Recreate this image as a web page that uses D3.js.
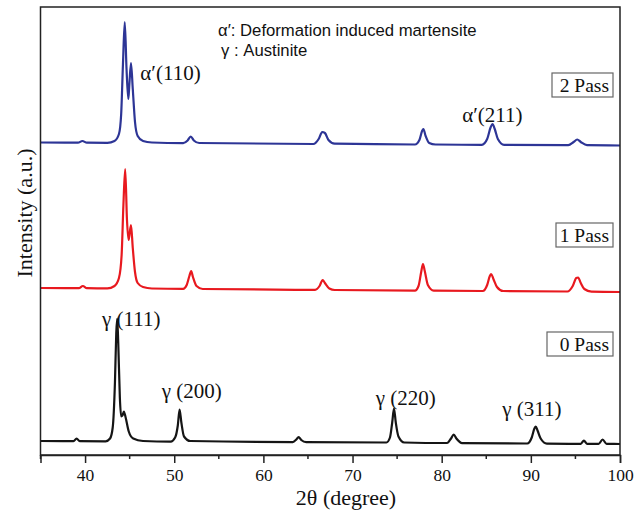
<!DOCTYPE html>
<html lang="en">
<head>
<meta charset="utf-8" />
<script src="https://d3js.org/d3.v7.min.js"></script>
<style>
  body { margin: 0; background: #fff; }
  svg { display: block; }
  .serif { font-family: "Liberation Serif", "Times New Roman", serif; fill: #111; }
  .sans { font-family: "Liberation Sans", Arial, sans-serif; fill: #111; }
</style>
</head>
<body>
<svg id="chart" width="644" height="511"></svg>
<script>
// x ticks
var xTicks = [40, 50, 60, 70, 80, 90, 100];
var xMinor = [35, 45, 55, 65, 75, 85, 95];

// patterns: [2theta, intensity above own baseline]
var pass0 = [[35, 1.5], [38.7, 1.3], [39.05, 4], [39.4, 1.3], [42.3, 1.2], [42.8, 4], [43.1, 15], [43.35, 60],
  [43.5, 110], [43.6, 124], [43.72, 100], [43.9, 45], [44.05, 26], [44.2, 27], [44.35, 31], [44.55, 25],
  [44.9, 11], [45.4, 4], [46.5, 1.5], [49.6, 0.9], [50.1, 5], [50.4, 17], [50.6, 33], [50.8, 20], [51.1, 6],
  [51.8, 1.5], [63.3, 0.4], [63.7, 3], [63.95, 5.5], [64.25, 2.5], [64.8, 0.3], [73.8, 0], [74.2, 5],
  [74.45, 20], [74.65, 34], [74.85, 20], [75.15, 6], [75.8, 0], [80.6, -0.5], [81.05, 4], [81.35, 8],
  [81.65, 4], [82.3, -0.6], [89.6, -1], [90.1, 5], [90.4, 14], [90.55, 16], [90.75, 12], [91.1, 4],
  [91.8, -1.1], [95.6, -1.3], [95.95, 2], [96.3, -1.3], [97.6, -1.4], [98.05, 3], [98.5, -1.4], [100, -1.5]];

var pass1 = [[35, 2], [39.3, 1.8], [39.75, 4], [40.2, 1.8], [42.5, 1.6], [43.3, 4], [43.8, 12], [44.1, 35],
  [44.3, 85], [44.5, 121], [44.7, 70], [44.88, 50], [44.98, 55], [45.15, 65], [45.35, 42], [45.6, 18],
  [45.9, 7], [46.5, 3], [47.5, 1.5], [51.0, 1.2], [51.4, 5], [51.7, 14], [51.9, 19], [52.1, 13], [52.5, 4],
  [53.2, 1], [65.8, 0.2], [66.3, 4], [66.65, 10], [66.9, 7], [67.4, 1.5], [68.0, 0], [77.0, -0.6], [77.4, 4],
  [77.7, 18], [77.9, 26], [78.1, 19], [78.45, 5], [79.1, -0.6], [84.6, -1], [85.1, 5], [85.4, 14],
  [85.55, 16], [85.8, 11], [86.2, 3], [86.9, -1], [94.1, -1.5], [94.7, 4], [95.1, 12], [95.3, 12.5],
  [95.6, 7], [96.0, 1], [96.8, -1.6], [100, -2]];

var pass2 = [[35, 1.5], [39.2, 1.3], [39.7, 3], [40.2, 1.3], [42.5, 1.2], [43.3, 3], [43.8, 10], [44.05, 30],
  [44.25, 80], [44.45, 122], [44.65, 75], [44.85, 45], [44.97, 60], [45.15, 81], [45.35, 55], [45.6, 22],
  [45.9, 8], [46.5, 3], [47.5, 1.5], [51.0, 0.9], [51.5, 3.5], [51.85, 7.5], [52.2, 3.5], [52.8, 1],
  [65.6, 0], [66.2, 5], [66.6, 12], [66.9, 11], [67.3, 4], [68.0, 0.3], [77.0, -0.5], [77.5, 4], [77.8, 13],
  [77.95, 15], [78.2, 8], [78.6, 1], [79.3, -0.5], [84.5, -0.8], [85.1, 5], [85.5, 17], [85.7, 20],
  [85.95, 15], [86.3, 5], [87.0, -0.8], [94.2, -1.2], [94.8, 2], [95.2, 4.5], [95.6, 2], [96.3, -1.2],
  [100, -1.5]];

var seriesNames = ["0 Pass", "1 Pass", "2 Pass"];
var seriesData = [pass0, pass1, pass2];
var seriesOffsets = [12.5, 165, 311];
var seriesColors = ["#151515", "#e8191f", "#2d3596"];

// peak labels [text, 2theta, intensity]
var peakLabels = [
  ["\u03b3 (111)", 41.9, 129],
  ["\u03b3 (200)", 48.6, 57],
  ["\u03b3 (220)", 72.6, 50],
  ["\u03b3 (311)", 86.8, 39],
  ["\u03b1\u2032(110)", 46.2, 375],
  ["\u03b1\u2032(211)", 82.3, 333]
];
var legendLines = ["\u03b1\u2032: Deformation induced martensite", "\u03b3 : Austinite"];

var svg = d3.select("#chart");
var margin = {left: 40.5, right: 620, top: 7, bottom: 455};

var x = d3.scaleLinear().domain([35, 100]).range([margin.left, margin.right]);
var y = d3.scaleLinear().domain([0, 448]).range([margin.bottom, margin.top]);

// curves
seriesData.forEach(function(pts, i) {
  var line = d3.line()
      .x(function(d) { return x(d[0]); })
      .y(function(d) { return y(d[1] + seriesOffsets[i]); })
      .curve(d3.curveMonotoneX);
  svg.append("path")
      .datum(pts)
      .attr("d", line)
      .attr("fill", "none")
      .attr("stroke", seriesColors[i])
      .attr("stroke-width", 2.2)
      .attr("stroke-linejoin", "round");
});

// frame
svg.append("rect")
    .attr("x", margin.left).attr("y", margin.top)
    .attr("width", margin.right - margin.left)
    .attr("height", margin.bottom - margin.top)
    .attr("fill", "none").attr("stroke", "#222").attr("stroke-width", 1.5);

// x axis
var xAxis = d3.axisBottom(x).tickValues(xTicks).tickSize(8).tickFormat(d3.format("d"));
var gx = svg.append("g").attr("transform", "translate(0," + margin.bottom + ")").call(xAxis);
gx.select(".domain").attr("stroke", "#222").attr("stroke-width", 1.5);
gx.selectAll(".tick line").attr("stroke", "#222").attr("stroke-width", 1.5);
gx.selectAll(".tick text")
    .attr("class", "serif")
    .attr("font-size", 17.5)
    .attr("dy", null)
    .attr("y", 26);
gx.attr("font-family", null);

svg.append("g").selectAll("line")
    .data(xMinor).enter().append("line")
    .attr("x1", function(d) { return x(d); }).attr("x2", function(d) { return x(d); })
    .attr("y1", margin.bottom).attr("y2", margin.bottom + 4)
    .attr("stroke", "#222").attr("stroke-width", 1.5);

svg.append("text").attr("class", "serif")
    .attr("x", 346).attr("y", 505)
    .attr("text-anchor", "middle").attr("font-size", 22)
    .text("2\u03b8 (degree)");

svg.append("text").attr("class", "serif")
    .attr("transform", "translate(32,213) rotate(-90)")
    .attr("text-anchor", "middle").attr("font-size", 22)
    .text("Intensity (a.u.)");

// peak labels
svg.append("g").selectAll("text")
    .data(peakLabels).enter().append("text")
    .attr("class", "serif")
    .attr("font-size", 21)
    .attr("x", function(d) { return x(d[1]); })
    .attr("y", function(d) { return y(d[2]); })
    .text(function(d) { return d[0]; });

// legend text
svg.append("g").selectAll("text")
    .data(legendLines).enter().append("text")
    .attr("class", "sans")
    .attr("font-size", 16.7)
    .attr("x", function(d, i) { return i ? 221 : 218; })
    .attr("y", function(d, i) { return 36 + i * 20; })
    .text(function(d) { return d; });

// pass boxes
var boxY = [344, 235, 85];
var boxLeft = [547, 556, 552];
seriesNames.forEach(function(name, i) {
  var g = svg.append("g");
  g.append("rect")
      .attr("x", boxLeft[i]).attr("y", boxY[i] - 12)
      .attr("width", 613 - boxLeft[i]).attr("height", 24)
      .attr("fill", "#fff").attr("stroke", "#666").attr("stroke-width", 1.2);
  g.append("text").attr("class", "serif")
      .attr("font-size", 19.5)
      .attr("text-anchor", "end")
      .attr("x", 609).attr("y", boxY[i] + 7)
      .text(name);
});
</script>
</body>
</html>
